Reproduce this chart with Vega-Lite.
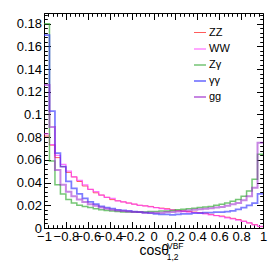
{
"$schema":"https://vega.github.io/schema/vega-lite/v6.json",
"width":219,"height":215,
"autosize":{"type":"none"},
"padding":{"left":44,"top":13,"right":11,"bottom":35},
"background":"white",
"config":{"view":{"stroke":"black","strokeWidth":1},"font":"Liberation Sans"},
"datasets":{"h":[
{"s":"ZZ","x":-1,"y":0.081},{"s":"ZZ","x":-0.95,"y":0.073},{"s":"ZZ","x":-0.9,"y":0.062},{"s":"ZZ","x":-0.85,"y":0.054},{"s":"ZZ","x":-0.8,"y":0.049},{"s":"ZZ","x":-0.75,"y":0.045},{"s":"ZZ","x":-0.7,"y":0.041},{"s":"ZZ","x":-0.65,"y":0.037},{"s":"ZZ","x":-0.6,"y":0.034},{"s":"ZZ","x":-0.55,"y":0.031},{"s":"ZZ","x":-0.5,"y":0.029},{"s":"ZZ","x":-0.45,"y":0.027},{"s":"ZZ","x":-0.4,"y":0.025},{"s":"ZZ","x":-0.35,"y":0.024},{"s":"ZZ","x":-0.3,"y":0.023},{"s":"ZZ","x":-0.25,"y":0.022},{"s":"ZZ","x":-0.2,"y":0.021},{"s":"ZZ","x":-0.15,"y":0.02},{"s":"ZZ","x":-0.1,"y":0.0195},{"s":"ZZ","x":-0.05,"y":0.019},{"s":"ZZ","x":0,"y":0.018},{"s":"ZZ","x":0.05,"y":0.0175},{"s":"ZZ","x":0.1,"y":0.017},{"s":"ZZ","x":0.15,"y":0.016},{"s":"ZZ","x":0.2,"y":0.0155},{"s":"ZZ","x":0.25,"y":0.015},{"s":"ZZ","x":0.3,"y":0.0145},{"s":"ZZ","x":0.35,"y":0.014},{"s":"ZZ","x":0.4,"y":0.0135},{"s":"ZZ","x":0.45,"y":0.013},{"s":"ZZ","x":0.5,"y":0.012},{"s":"ZZ","x":0.55,"y":0.011},{"s":"ZZ","x":0.6,"y":0.0105},{"s":"ZZ","x":0.65,"y":0.0095},{"s":"ZZ","x":0.7,"y":0.0085},{"s":"ZZ","x":0.75,"y":0.0075},{"s":"ZZ","x":0.8,"y":0.006},{"s":"ZZ","x":0.85,"y":0.0045},{"s":"ZZ","x":0.9,"y":0.003},{"s":"ZZ","x":0.95,"y":0.0012},{"s":"ZZ","x":1,"y":0.0012},
{"s":"WW","x":-1,"y":0.083},{"s":"WW","x":-0.95,"y":0.0735},{"s":"WW","x":-0.9,"y":0.064},{"s":"WW","x":-0.85,"y":0.056},{"s":"WW","x":-0.8,"y":0.05},{"s":"WW","x":-0.75,"y":0.045},{"s":"WW","x":-0.7,"y":0.042},{"s":"WW","x":-0.65,"y":0.038},{"s":"WW","x":-0.6,"y":0.034},{"s":"WW","x":-0.55,"y":0.032},{"s":"WW","x":-0.5,"y":0.029},{"s":"WW","x":-0.45,"y":0.027},{"s":"WW","x":-0.4,"y":0.026},{"s":"WW","x":-0.35,"y":0.024},{"s":"WW","x":-0.3,"y":0.023},{"s":"WW","x":-0.25,"y":0.022},{"s":"WW","x":-0.2,"y":0.021},{"s":"WW","x":-0.15,"y":0.02},{"s":"WW","x":-0.1,"y":0.0195},{"s":"WW","x":-0.05,"y":0.0185},{"s":"WW","x":0,"y":0.018},{"s":"WW","x":0.05,"y":0.017},{"s":"WW","x":0.1,"y":0.0165},{"s":"WW","x":0.15,"y":0.016},{"s":"WW","x":0.2,"y":0.015},{"s":"WW","x":0.25,"y":0.0145},{"s":"WW","x":0.3,"y":0.014},{"s":"WW","x":0.35,"y":0.0135},{"s":"WW","x":0.4,"y":0.013},{"s":"WW","x":0.45,"y":0.0125},{"s":"WW","x":0.5,"y":0.0115},{"s":"WW","x":0.55,"y":0.011},{"s":"WW","x":0.6,"y":0.01},{"s":"WW","x":0.65,"y":0.009},{"s":"WW","x":0.7,"y":0.008},{"s":"WW","x":0.75,"y":0.007},{"s":"WW","x":0.8,"y":0.0058},{"s":"WW","x":0.85,"y":0.0045},{"s":"WW","x":0.9,"y":0.0028},{"s":"WW","x":0.95,"y":0.0015},{"s":"WW","x":1,"y":0.0015},
{"s":"Zγ","x":-1,"y":0.18},{"s":"Zγ","x":-0.95,"y":0.059},{"s":"Zγ","x":-0.9,"y":0.038},{"s":"Zγ","x":-0.85,"y":0.03},{"s":"Zγ","x":-0.8,"y":0.025},{"s":"Zγ","x":-0.75,"y":0.022},{"s":"Zγ","x":-0.7,"y":0.02},{"s":"Zγ","x":-0.65,"y":0.019},{"s":"Zγ","x":-0.6,"y":0.018},{"s":"Zγ","x":-0.55,"y":0.017},{"s":"Zγ","x":-0.5,"y":0.016},{"s":"Zγ","x":-0.45,"y":0.0155},{"s":"Zγ","x":-0.4,"y":0.015},{"s":"Zγ","x":-0.35,"y":0.0145},{"s":"Zγ","x":-0.3,"y":0.014},{"s":"Zγ","x":-0.25,"y":0.014},{"s":"Zγ","x":-0.2,"y":0.014},{"s":"Zγ","x":-0.15,"y":0.014},{"s":"Zγ","x":-0.1,"y":0.014},{"s":"Zγ","x":-0.05,"y":0.0145},{"s":"Zγ","x":0,"y":0.0145},{"s":"Zγ","x":0.05,"y":0.015},{"s":"Zγ","x":0.1,"y":0.015},{"s":"Zγ","x":0.15,"y":0.0155},{"s":"Zγ","x":0.2,"y":0.016},{"s":"Zγ","x":0.25,"y":0.0165},{"s":"Zγ","x":0.3,"y":0.017},{"s":"Zγ","x":0.35,"y":0.0175},{"s":"Zγ","x":0.4,"y":0.018},{"s":"Zγ","x":0.45,"y":0.0185},{"s":"Zγ","x":0.5,"y":0.019},{"s":"Zγ","x":0.55,"y":0.02},{"s":"Zγ","x":0.6,"y":0.021},{"s":"Zγ","x":0.65,"y":0.022},{"s":"Zγ","x":0.7,"y":0.0235},{"s":"Zγ","x":0.75,"y":0.025},{"s":"Zγ","x":0.8,"y":0.028},{"s":"Zγ","x":0.85,"y":0.0325},{"s":"Zγ","x":0.9,"y":0.043},{"s":"Zγ","x":0.95,"y":0.065},{"s":"Zγ","x":1,"y":0.065},
{"s":"γγ","x":-1,"y":0.17},{"s":"γγ","x":-0.95,"y":0.103},{"s":"γγ","x":-0.9,"y":0.066},{"s":"γγ","x":-0.85,"y":0.054},{"s":"γγ","x":-0.8,"y":0.041},{"s":"γγ","x":-0.75,"y":0.035},{"s":"γγ","x":-0.7,"y":0.03},{"s":"γγ","x":-0.65,"y":0.026},{"s":"γγ","x":-0.6,"y":0.023},{"s":"γγ","x":-0.55,"y":0.021},{"s":"γγ","x":-0.5,"y":0.019},{"s":"γγ","x":-0.45,"y":0.018},{"s":"γγ","x":-0.4,"y":0.017},{"s":"γγ","x":-0.35,"y":0.016},{"s":"γγ","x":-0.3,"y":0.0155},{"s":"γγ","x":-0.25,"y":0.015},{"s":"γγ","x":-0.2,"y":0.0145},{"s":"γγ","x":-0.15,"y":0.014},{"s":"γγ","x":-0.1,"y":0.0135},{"s":"γγ","x":-0.05,"y":0.013},{"s":"γγ","x":0,"y":0.0125},{"s":"γγ","x":0.05,"y":0.012},{"s":"γγ","x":0.1,"y":0.012},{"s":"γγ","x":0.15,"y":0.0115},{"s":"γγ","x":0.2,"y":0.012},{"s":"γγ","x":0.25,"y":0.0125},{"s":"γγ","x":0.3,"y":0.0125},{"s":"γγ","x":0.35,"y":0.013},{"s":"γγ","x":0.4,"y":0.013},{"s":"γγ","x":0.45,"y":0.0135},{"s":"γγ","x":0.5,"y":0.0135},{"s":"γγ","x":0.55,"y":0.014},{"s":"γγ","x":0.6,"y":0.014},{"s":"γγ","x":0.65,"y":0.0145},{"s":"γγ","x":0.7,"y":0.015},{"s":"γγ","x":0.75,"y":0.0165},{"s":"γγ","x":0.8,"y":0.018},{"s":"γγ","x":0.85,"y":0.02},{"s":"γγ","x":0.9,"y":0.022},{"s":"γγ","x":0.95,"y":0.03},{"s":"γγ","x":1,"y":0.03},
{"s":"gg","x":-1,"y":0.126},{"s":"gg","x":-0.95,"y":0.089},{"s":"gg","x":-0.9,"y":0.051},{"s":"gg","x":-0.85,"y":0.038},{"s":"gg","x":-0.8,"y":0.032},{"s":"gg","x":-0.75,"y":0.028},{"s":"gg","x":-0.7,"y":0.025},{"s":"gg","x":-0.65,"y":0.023},{"s":"gg","x":-0.6,"y":0.021},{"s":"gg","x":-0.55,"y":0.0195},{"s":"gg","x":-0.5,"y":0.018},{"s":"gg","x":-0.45,"y":0.017},{"s":"gg","x":-0.4,"y":0.016},{"s":"gg","x":-0.35,"y":0.0155},{"s":"gg","x":-0.3,"y":0.015},{"s":"gg","x":-0.25,"y":0.0145},{"s":"gg","x":-0.2,"y":0.014},{"s":"gg","x":-0.15,"y":0.014},{"s":"gg","x":-0.1,"y":0.0135},{"s":"gg","x":-0.05,"y":0.0135},{"s":"gg","x":0,"y":0.0135},{"s":"gg","x":0.05,"y":0.0135},{"s":"gg","x":0.1,"y":0.014},{"s":"gg","x":0.15,"y":0.014},{"s":"gg","x":0.2,"y":0.0145},{"s":"gg","x":0.25,"y":0.015},{"s":"gg","x":0.3,"y":0.0155},{"s":"gg","x":0.35,"y":0.016},{"s":"gg","x":0.4,"y":0.0165},{"s":"gg","x":0.45,"y":0.017},{"s":"gg","x":0.5,"y":0.0175},{"s":"gg","x":0.55,"y":0.018},{"s":"gg","x":0.6,"y":0.0185},{"s":"gg","x":0.65,"y":0.0195},{"s":"gg","x":0.7,"y":0.021},{"s":"gg","x":0.75,"y":0.022},{"s":"gg","x":0.8,"y":0.0245},{"s":"gg","x":0.85,"y":0.028},{"s":"gg","x":0.9,"y":0.0355},{"s":"gg","x":0.95,"y":0.075},{"s":"gg","x":1,"y":0.075}
]},
"resolve":{"axis":{"x":"independent","y":"independent"}},
"layer":[
{"data":{"name":"h"},
 "mark":{"type":"line","interpolate":"step-after"},
 "encoding":{
  "x":{"field":"x","type":"quantitative","scale":{"domain":[-1,1],"nice":false,"zero":false},
   "axis":{"orient":"bottom","grid":false,
    "values":[-1,-0.96,-0.92,-0.88,-0.84,-0.8,-0.76,-0.72,-0.68,-0.64,-0.6,-0.56,-0.52,-0.48,-0.44,-0.4,-0.36,-0.32,-0.28,-0.24,-0.2,-0.16,-0.12,-0.08,-0.04,0,0.04,0.08,0.12,0.16,0.2,0.24,0.28,0.32,0.36,0.4,0.44,0.48,0.52,0.56,0.6,0.64,0.68,0.72,0.76,0.8,0.84,0.88,0.92,0.96,1],
    "tickSize":{"condition":{"test":"abs(datum.value*5-round(datum.value*5))<0.001","value":-6.5},"value":-3.3},
    "labelExpr":"abs(datum.value*5-round(datum.value*5))<0.001 ? format(datum.value,'~g') : ''",
    "labelFontSize":13,"labelPadding":9,"labelOverlap":false,"labelFlush":false,"labelBound":false,
    "domainColor":"black","tickColor":"black","labelColor":"black",
    "title":"cosθ","titleFontSize":14,"titleFontWeight":"normal","titleColor":"black","titleAnchor":"start","titleAlign":"left","titleBaseline":"alphabetic","titleX":95,"titleY":26.5}},
  "y":{"field":"y","type":"quantitative","scale":{"domain":[0,0.1894],"nice":false,"zero":false},
   "axis":{"orient":"left","grid":false,
    "values":[0,0.004,0.008,0.012,0.016,0.02,0.024,0.028,0.032,0.036,0.04,0.044,0.048,0.052,0.056,0.06,0.064,0.068,0.072,0.076,0.08,0.084,0.088,0.092,0.096,0.1,0.104,0.108,0.112,0.116,0.12,0.124,0.128,0.132,0.136,0.14,0.144,0.148,0.152,0.156,0.16,0.164,0.168,0.172,0.176,0.18,0.184,0.188],
    "tickSize":{"condition":{"test":"abs(datum.value*50-round(datum.value*50))<0.001","value":-6.5},"value":-3.3},
    "labelExpr":"abs(datum.value*50-round(datum.value*50))<0.001 ? format(datum.value,'~g') : ''",
    "labelFontSize":13,"labelPadding":9,"labelOverlap":false,"labelBound":false,
    "domainColor":"black","tickColor":"black","labelColor":"black","title":null}},
  "color":{"field":"s","type":"nominal",
   "scale":{"domain":["ZZ","WW","Zγ","γγ","gg"],"range":["#ff3333","#ff44ff","#33aa33","#2a2aff","#9922cc"]},
   "legend":{"orient":"none","legendX":149,"legendY":13,"title":null,"symbolType":"stroke","symbolSize":144,"labelFontSize":11,"labelColor":"black","rowPadding":4,"labelOffset":2}},
  "strokeWidth":{"field":"s","type":"nominal","scale":{"domain":["ZZ","WW","Zγ","γγ","gg"],"range":[1,2,1.3,1,1]}},
  "opacity":{"field":"s","type":"nominal","scale":{"domain":["ZZ","WW","Zγ","γγ","gg"],"range":[0.8,0.55,0.75,0.7,0.75]}}
 }},
{"data":{"values":[{}]},
 "mark":{"type":"text","text":"VBF","fontSize":8.5,"align":"left","baseline":"alphabetic","color":"black"},
 "encoding":{
  "x":{"datum":0.123,"type":"quantitative",
   "axis":{"orient":"top","grid":false,"labels":false,"domain":false,"title":null,"tickColor":"black",
    "values":[-1,-0.96,-0.92,-0.88,-0.84,-0.8,-0.76,-0.72,-0.68,-0.64,-0.6,-0.56,-0.52,-0.48,-0.44,-0.4,-0.36,-0.32,-0.28,-0.24,-0.2,-0.16,-0.12,-0.08,-0.04,0,0.04,0.08,0.12,0.16,0.2,0.24,0.28,0.32,0.36,0.4,0.44,0.48,0.52,0.56,0.6,0.64,0.68,0.72,0.76,0.8,0.84,0.88,0.92,0.96,1],
    "tickSize":{"condition":{"test":"abs(datum.value*5-round(datum.value*5))<0.001","value":-6.5},"value":-3.3}}},
  "y":{"datum":-0.0185,"type":"quantitative",
   "axis":{"orient":"right","grid":false,"labels":false,"domain":false,"title":null,"tickColor":"black",
    "values":[0,0.004,0.008,0.012,0.016,0.02,0.024,0.028,0.032,0.036,0.04,0.044,0.048,0.052,0.056,0.06,0.064,0.068,0.072,0.076,0.08,0.084,0.088,0.092,0.096,0.1,0.104,0.108,0.112,0.116,0.12,0.124,0.128,0.132,0.136,0.14,0.144,0.148,0.152,0.156,0.16,0.164,0.168,0.172,0.176,0.18,0.184,0.188],
    "tickSize":{"condition":{"test":"abs(datum.value*50-round(datum.value*50))<0.001","value":-6.5},"value":-3.3}}}
 }},
{"data":{"values":[{}]},
 "mark":{"type":"text","text":"1,2","fontSize":8.5,"align":"left","baseline":"alphabetic","color":"black"},
 "encoding":{
  "x":{"datum":0.121,"type":"quantitative","axis":null},
  "y":{"datum":-0.0286,"type":"quantitative","axis":null}
 }}
]
}
